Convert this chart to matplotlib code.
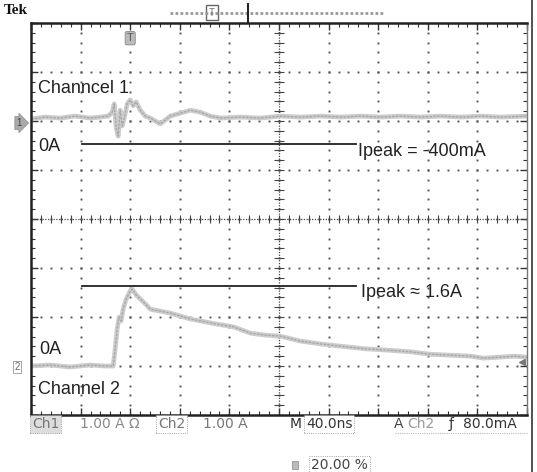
import numpy as np
import matplotlib
matplotlib.use("Agg")
import matplotlib.pyplot as plt

# ---------------- data (time in ns, current in A) ----------------
ch1_t = [0, 11.3, 23.4, 35.6, 47.7, 55.8, 62.2, 65.5, 67.1, 68.7, 70.3, 71.9, 73.5, 75.2,
         77.6, 80.0, 82.4, 84.8, 88.1, 92.1, 96.2, 100.2, 104.2, 108.3, 112.3, 120.4,
         128.5, 136.6, 144.6, 152.7, 168.9, 185.0, 201.2, 217.4, 233.5, 249.7, 265.9,
         282.0, 298.2, 314.3, 330.5, 346.7, 362.8, 379.0, 400.0]
ch1_i = [0.04, 0.08, 0.06, 0.10, 0.06, 0.08, 0.10, 0.18, 0.35, -0.14, -0.31, 0.22, -0.10, 0.06,
         0.35, 0.43, 0.31, 0.39, 0.22, 0.10, 0.06, 0.00, -0.06, 0.02, 0.10, 0.16,
         0.22, 0.18, 0.10, 0.06, 0.08, 0.06, 0.10, 0.08, 0.10, 0.08, 0.10,
         0.08, 0.10, 0.08, 0.10, 0.08, 0.10, 0.08, 0.10]

ch2_t = [0, 15.4, 31.5, 47.7, 59.8, 66.3, 67.9, 69.5, 71.1, 72.7, 74.3, 76.8, 80.0, 81.6,
         84.8, 88.1, 92.1, 96.2, 104.2, 112.3, 120.4, 128.5, 136.6, 148.7, 163.2, 177.0,
         189.0, 201.0, 217.0, 233.5, 255.0, 270.0, 284.0, 306.0, 322.0, 338.6, 354.7,
         365.0, 377.4, 390.0, 400.0]
ch2_i = [0.00, 0.02, -0.02, 0.02, 0.00, 0.00, 0.35, 0.76, 1.00, 0.92, 1.16, 1.37, 1.53, 1.57,
         1.45, 1.37, 1.27, 1.16, 1.12, 1.08, 1.02, 0.96, 0.92, 0.86, 0.80, 0.67,
         0.63, 0.61, 0.51, 0.45, 0.39, 0.35, 0.33, 0.29, 0.24, 0.22, 0.20,
         0.16, 0.18, 0.20, 0.18]

ch1_offset_div = 2.0
ch2_offset_div = -3.0
volts_per_div = 1.0          # 1.00 A/div both channels
ipeak1_level = -0.47
ipeak2_level = 1.63
ipeak_t = [41.2, 261.8]

# ---------------- figure ----------------
W, H = 537, 472
fig = plt.figure(figsize=(W / 100, H / 100), dpi=100)
fig.patch.set_facecolor("white")

L, T, R, B = 31, 23, 527, 415
ax = fig.add_axes([L / W, 1 - B / H, (R - L) / W, (B - T) / H])
ax.set_xlim(0, 400)
ax.set_ylim(-4, 4)
ax.set_facecolor("white")

# graticule dots
grid_col = "#555555"
for gx in np.arange(40, 400, 40):
    ys = np.arange(-4, 4.01, 0.2)
    ax.plot(np.full_like(ys, gx), ys, ls="none", marker="s", ms=1.4, color=grid_col, mew=0)
for gy in np.arange(-3, 4, 1):
    xs = np.arange(0, 400.1, 8)
    ax.plot(xs, np.full_like(xs, gy), ls="none", marker="s", ms=1.4, color=grid_col, mew=0)
# centre cross with minor ticks
ax.axvline(200, color="#444444", lw=0.9, ls=(0, (1, 1.2)))
ax.axhline(0, color="#444444", lw=0.9, ls=(0, (1, 1.2)))
tx = np.arange(0, 400.1, 8)
ax.vlines(tx, -0.08, 0.08, color="#444444", lw=0.8)
ty = np.arange(-4, 4.01, 0.2)
ax.hlines(ty, 196, 204, color="#444444", lw=0.8)

# border ticks
ax.set_xticks(np.arange(0, 401, 40))
ax.set_xticks(np.arange(0, 401, 8), minor=True)
ax.set_yticks(np.arange(-4, 4.1, 1))
ax.set_yticks(np.arange(-4, 4.1, 0.2), minor=True)
ax.tick_params(which="both", direction="in", top=True, right=True,
               labelbottom=False, labelleft=False, color="#333333")
ax.tick_params(which="major", length=5, width=1)
ax.tick_params(which="minor", length=3, width=0.8)
for s in ax.spines.values():
    s.set_linewidth(1.8)
    s.set_color("#222222")
ax.spines["right"].set_linewidth(1.0)
ax.spines["right"].set_color("#777777")

# traces
y1 = [ch1_offset_div + v / volts_per_div for v in ch1_i]
y2 = [ch2_offset_div + v / volts_per_div for v in ch2_i]
for yy, tt in ((y1, ch1_t), (y2, ch2_t)):
    ax.plot(tt, yy, color="#cccccc", lw=3.4, solid_joinstyle="round")
    ax.plot(tt, yy, color="#a5a5a5", lw=0.9, ls=(0, (2, 1)))

# Ipeak lines
ax.plot(ipeak_t, [ch1_offset_div + ipeak1_level] * 2, color="#222222", lw=1.3)
ax.plot(ipeak_t, [ch2_offset_div + ipeak2_level] * 2, color="#222222", lw=1.3)

fam = ["Liberation Sans", "DejaVu Sans"]
tk = dict(family=fam, fontsize=13, color="#222222", va="center", ha="left")
ax.text(5.7, 2.67, "Channcel 1", **tk)
ax.text(5.7, 1.47, "0A", **tk)
ax.text(264, 1.38, "Ipeak = -400mA", **tk)
ax.text(266, -1.51, "Ipeak \u2248 1.6A", **tk)
ax.text(7.0, -2.67, "0A", **tk)
ax.text(5.7, -3.47, "Channel 2", **tk)

# trigger position marker
ax.text(80, 3.69, "T", family=fam, fontsize=8, color="#555555", ha="center", va="center",
        bbox=dict(boxstyle="round,pad=0.15", fc="#bbbbbb", ec="#888888", lw=0.6))
# trigger level marker (right edge, Ch2, 80 mA)
ax.plot([396], [ch2_offset_div + 0.08], marker="<", ms=5, color="#777777", clip_on=False)

# ---------------- decorations in pixel coords ----------------
ov = fig.add_axes([0, 0, 1, 1], facecolor="none")
ov.set_xlim(0, W)
ov.set_ylim(H, 0)
ov.axis("off")

ov.text(4, 11, "Tek", family=["Liberation Serif", "DejaVu Serif"], fontsize=11,
        fontweight="bold", color="#111111", va="center", ha="left")
ov.plot([170, 385], [13, 13], color="#999999", lw=2, ls=(0, (1, 0.8)))
ov.add_patch(plt.Rectangle((206, 5), 12, 15, fc="white", ec="#666666", lw=1))
ov.text(212, 13, "T", fontsize=7, color="#777777", ha="center", va="center", family=fam)
ov.plot([248, 248], [4, 22], color="#222222", lw=1.5)
ov.plot([532, 532], [0, 472], color="#333333", lw=1.2)

# channel ground markers
ov.text(19, 123, "1", family=fam, fontsize=7, color="#444444", ha="center", va="center",
        bbox=dict(boxstyle="rarrow,pad=0.15", fc="#aaaaaa", ec="#888888", lw=0.5))
ov.text(17, 367, "2", family=fam, fontsize=7, color="#666666", ha="center", va="center",
        bbox=dict(boxstyle="square,pad=0.15", fc="white", ec="#999999", lw=0.6))

# status bar
sfam = ["DejaVu Sans"]
st = dict(family=sfam, fontsize=10, va="center", ha="left")
ov.text(32, 424, "Ch1", color="#777777", **st,
        bbox=dict(boxstyle="square,pad=0.12", fc="#dddddd", ec="#888888", lw=0.6, ls=":"))
ov.text(80, 424, "1.00 A \u03a9", color="#888888", **st)
ov.text(158, 424, "Ch2", color="#777777", **st,
        bbox=dict(boxstyle="square,pad=0.12", fc="white", ec="#888888", lw=0.6, ls=":"))
ov.text(203, 424, "1.00 A", color="#777777", **st)
ov.text(290, 424, "M", color="#333333", **st)
ov.text(306, 424, "40.0ns", color="#333333", **st,
        bbox=dict(boxstyle="square,pad=0.12", fc="white", ec="#888888", lw=0.6, ls=":"))
ov.text(394, 424, "A", color="#444444", **st)
ov.text(407, 424, "Ch2", color="#999999", **st)
ov.text(449, 424, "\u0192", color="#333333", **st)
ov.text(463, 424, "80.0mA", color="#333333", **st)
ov.plot([395, 527], [433, 433], color="#bbbbbb", lw=0.8, ls=(0, (1, 1)))
ov.add_patch(plt.Rectangle((292, 461), 6, 8, fc="#bbbbbb", ec="#888888", lw=0.5))
ov.text(311, 465, "20.00 %", color="#444444", **st,
        bbox=dict(boxstyle="square,pad=0.15", fc="white", ec="#888888", lw=0.6, ls=":"))

fig.savefig("out.png", dpi=100, facecolor="white")
